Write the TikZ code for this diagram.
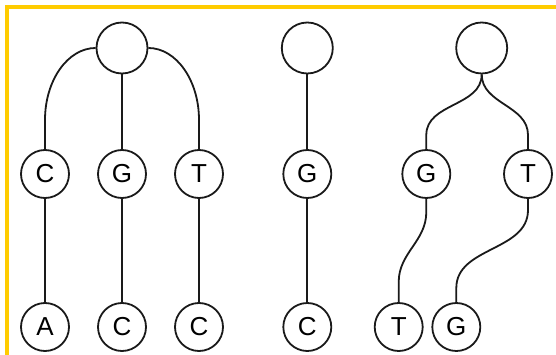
\documentclass[tikz,border=0pt]{standalone}
\usepackage{fontspec}
\setmainfont{Liberation Sans}
\definecolor{frameyellow}{HTML}{FFCC00}
\definecolor{ink}{HTML}{1A1A1A}
\tikzset{
  rootnode/.style={circle,draw=ink,line width=1.8pt,minimum size=51pt,inner sep=0pt},
  basenode/.style={circle,draw=ink,line width=1.8pt,minimum size=48pt,inner sep=0pt,font=\fontsize{26}{26}\selectfont},
  edge/.style={draw=ink,line width=1.8pt}
}
\begin{document}
\begin{tikzpicture}[x=1pt,y=-1pt]
\useasboundingbox (0,0) rectangle (556,355);
\fill[white] (0,0) rectangle (556,355);
% frame
\draw[frameyellow,line width=4pt] (7,355) -- (7,7) -- (556,7);
% tree 1
\node[rootnode] (r1) at (122,48) {};
\node[basenode] (c1) at (45,174) {C};
\node[basenode] (g1) at (122,174) {G};
\node[basenode] (t1) at (199,174) {T};
\node[basenode] (a1) at (45,327) {A};
\node[basenode] (cc1) at (122,327) {C};
\node[basenode] (ct1) at (199,327) {C};
\coordinate (k1) at (45,120);
\coordinate (k2) at (199,120);
\path[edge] (r1.west) .. controls (68,48) and (45,80) .. (k1) -- (c1.north);
\path[edge] (r1.east) .. controls (176,48) and (199,80) .. (k2) -- (t1.north);
\path[edge] (r1) -- (g1);
\path[edge] (c1) -- (a1);
\path[edge] (g1) -- (cc1);
\path[edge] (t1) -- (ct1);
% tree 2
\node[rootnode] (r2) at (307.3,48) {};
\node[basenode] (g2) at (307.3,174) {G};
\node[basenode] (c2) at (307.3,327) {C};
\path[edge] (r2) -- (g2);
\path[edge] (g2) -- (c2);
% tree 3
\node[rootnode] (r3) at (481.7,48) {};
\node[basenode] (g3) at (426.3,174) {G};
\node[basenode] (t3) at (528,174) {T};
\node[basenode] (bt3) at (398.7,327) {T};
\node[basenode] (bg3) at (456.3,327) {G};
\coordinate (m1) at (426.3,135);
\coordinate (m2) at (528,135);
\path[edge] (r3.south) to[out=-90,in=90] (m1) -- (g3.north);
\path[edge] (r3.south) to[out=-90,in=90] (m2) -- (t3.north);
\coordinate (n1) at (426.3,212);
\coordinate (n2) at (398.7,282);
\path[edge] (g3.south) -- (n1) to[out=-90,in=90] (n2) -- (bt3.north);
\coordinate (p1) at (528,210);
\coordinate (p2) at (456.3,288);
\path[edge] (t3.south) -- (p1) to[out=-90,in=90] (p2) -- (bg3.north);
\end{tikzpicture}
\end{document}
